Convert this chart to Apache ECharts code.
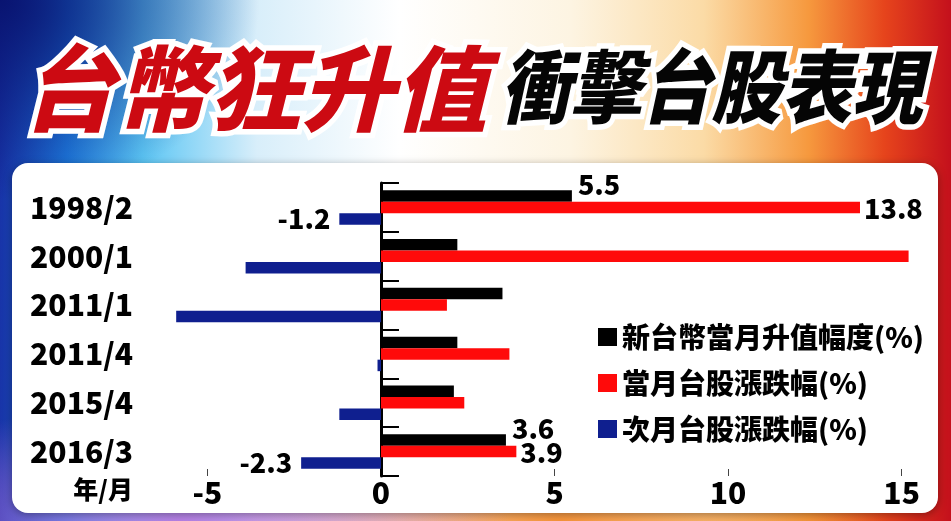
<!DOCTYPE html>
<html>
<head>
<meta charset="utf-8">
<script src="https://cdn.jsdelivr.net/npm/echarts@6/dist/echarts.min.js"></script>
<style>
html,body{margin:0;padding:0;width:951px;height:521px;overflow:hidden;}
#bg{position:absolute;left:0;top:0;width:951px;height:521px;
background:
 radial-gradient(ellipse 260px 200px at 0px 0px, rgba(8,18,110,0.95), rgba(8,18,110,0) 100%),
 radial-gradient(ellipse 330px 120px at 180px 521px, rgba(190,120,230,0.9), rgba(190,120,230,0) 100%),
 radial-gradient(ellipse 330px 120px at 560px 521px, rgba(250,140,40,0.9), rgba(250,140,40,0) 100%),
 linear-gradient(90deg,#1834a8 0%,#1f7fe2 7%,#5cc6f4 15%,#d8eefa 27%,#ffffff 42%,#fdf4e2 60%,#fbdba6 74%,#f6993e 85%,#e6441c 93%,#c4101c 100%);}
#chart{position:absolute;left:0;top:0;width:951px;height:521px;}
</style>
</head>
<body>
<div id="bg"></div>
<div id="chart"></div>
<script>
const categories = ['1998/2', '2000/1', '2011/1', '2011/4', '2015/4', '2016/3'];
const twdAppreciation = [5.5, 2.2, 3.5, 2.2, 2.1, 3.6];
const taiexSameMonth = [13.8, 15.2, 1.9, 3.7, 2.4, 3.9];
const taiexNextMonth = [-1.2, -3.9, -5.9, -0.1, -1.2, -2.3];
const seriesNames = ['新台幣當月升值幅度(%)', '當月台股漲跌幅(%)', '次月台股漲跌幅(%)'];
const xTickLabels = [-5, 0, 5, 10, 15];
const xTickMarks = [-5, 5, 10, 15];
const labeledCategories = ['1998/2', '2016/3'];
const titleMain = '台幣狂升值';
const titleSub = '衝擊台股表現';
const yAxisName = '年/月';

const FONT = '"Noto Sans CJK TC", "Noto Sans", sans-serif';
const colors = ['#000000', '#ff0a0a', '#0f1f8f'];

function withLabels(values, labelCfg) {
  return values.map((v, i) => ({
    value: v,
    label: Object.assign({ show: labeledCategories.indexOf(categories[i]) >= 0 }, labelCfg)
  }));
}

const labelBase = { fontFamily: FONT, fontWeight: 900, fontSize: 27, color: '#000' };

const chart = echarts.init(document.getElementById('chart'), null, { renderer: 'canvas' });
chart.setOption({
  backgroundColor: 'transparent',
  animation: false,
  textStyle: { fontFamily: FONT },
  graphic: [
    {
      type: 'rect', z: -10, silent: true,
      shape: { x: 12, y: 163, width: 926, height: 350, r: 16 },
      style: { fill: '#ffffff', shadowBlur: 8, shadowColor: 'rgba(0,0,0,0.35)', shadowOffsetY: 2 }
    },
    {
      type: 'text', z: 10, x: 22, y: 89, silent: true,
      style: {
        text: titleMain, font: 'italic 900 93px ' + FONT,
        textVerticalAlign: 'middle', verticalAlign: 'middle',
        fill: '#cc0a12',
        stroke: '#ffffff', lineWidth: 11, strokeFirst: true,
        shadowBlur: 4, shadowColor: 'rgba(0,0,0,0.6)', shadowOffsetX: 2, shadowOffsetY: 5
      }
    },
    {
      type: 'text', z: 10, x: 500, y: 87, scaleX: 0.88, silent: true,
      style: {
        text: titleSub, font: 'italic 900 80px ' + FONT,
        textVerticalAlign: 'middle', verticalAlign: 'middle',
        fill: '#050505',
        stroke: '#ffffff', lineWidth: 11, strokeFirst: true,
        shadowBlur: 4, shadowColor: 'rgba(0,0,0,0.55)', shadowOffsetX: 2, shadowOffsetY: 5
      }
    },
    {
      type: 'text', z: 10, x: 133, y: 489, silent: true,
      style: {
        text: yAxisName, font: '900 25px ' + FONT, fill: '#000',
        align: 'right', textAlign: 'right', verticalAlign: 'middle', textVerticalAlign: 'middle'
      }
    }
  ],
  legend: {
    orient: 'vertical', left: 598, top: 323, padding: 0,
    itemWidth: 19, itemHeight: 18, itemGap: 18, icon: 'rect',
    data: seriesNames,
    textStyle: { fontFamily: FONT, fontWeight: 900, fontSize: 28, lineHeight: 28, color: '#000' }
  },
  grid: { left: 138, right: 32, top: 183, bottom: 45, containLabel: false, outerBoundsMode: 'none' },
  xAxis: {
    type: 'value', min: -7, max: 15.5,
    axisLine: { show: false },
    splitLine: { show: false },
    axisTick: { show: true, inside: true, length: 7, customValues: xTickMarks, lineStyle: { color: '#444', width: 1 } },
    axisLabel: {
      customValues: xTickLabels, margin: 2,
      fontFamily: FONT, fontWeight: 900, fontSize: 30, color: '#000'
    }
  },
  yAxis: [
    {
      type: 'category', data: categories, inverse: true, position: 'left',
      axisLine: { show: false, onZero: false },
      axisTick: { show: false },
      axisLabel: { margin: 5, fontFamily: FONT, fontWeight: 900, fontSize: 30, color: '#000' }
    },
    {
      type: 'category', data: categories, inverse: true, position: 'left',
      axisLine: { show: true, onZero: true, lineStyle: { color: '#000', width: 3 } },
      axisTick: { show: true, inside: true, length: 18, lineStyle: { color: '#000', width: 2 } },
      axisLabel: { show: false }
    }
  ],
  series: [
    {
      name: seriesNames[0], type: 'bar', yAxisIndex: 0, barWidth: 11.5, barGap: '0%',
      itemStyle: { color: colors[0] },
      data: withLabels(twdAppreciation, Object.assign({ position: 'right', distance: 6, offset: [0, -11] }, labelBase))
    },
    {
      name: seriesNames[1], type: 'bar', yAxisIndex: 0, barWidth: 11.5, barGap: '0%',
      itemStyle: { color: colors[1] },
      data: withLabels(taiexSameMonth, Object.assign({ position: 'right', distance: 4, offset: [0, 1] }, labelBase))
    },
    {
      name: seriesNames[2], type: 'bar', yAxisIndex: 0, barWidth: 11.5, barGap: '0%',
      itemStyle: { color: colors[2] },
      data: withLabels(taiexNextMonth, Object.assign({ position: 'left', distance: 9 }, labelBase))
    }
  ]
});
</script>
</body>
</html>
